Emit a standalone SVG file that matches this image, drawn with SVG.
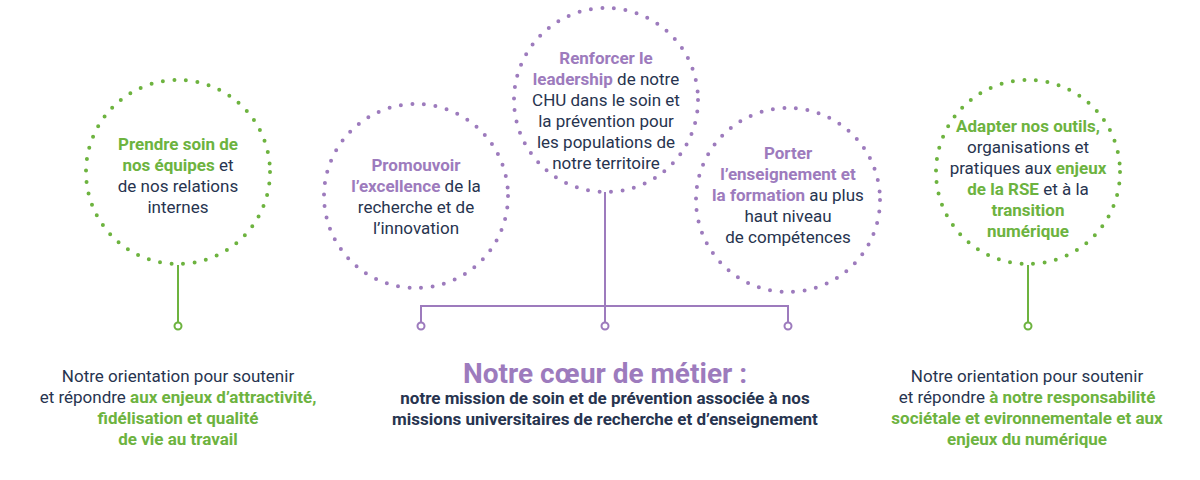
<svg xmlns="http://www.w3.org/2000/svg" width="1200" height="480" viewBox="0 0 1200 480">
<style>
text{font-family:Roboto,"Liberation Sans",sans-serif;font-size:17px;fill:#27344f;text-anchor:middle}
.g{fill:#6db33f;font-weight:bold}.p{fill:#9d7bbd;font-weight:bold}
.dg{fill:none;stroke:#6db33f;stroke-width:4;stroke-linecap:round;stroke-dasharray:0 11.6}
.dp{fill:none;stroke:#9d7bbd;stroke-width:4;stroke-linecap:round;stroke-dasharray:0 11.6}
.lg{stroke:#6db33f;stroke-width:2;fill:none}.lp{stroke:#9d7bbd;stroke-width:2;fill:none}
.eg{fill:#fff;stroke:#6db33f;stroke-width:2}.ep{fill:#fff;stroke:#9d7bbd;stroke-width:2}
.b{font-weight:bold}
</style>
<rect width="1200" height="480" fill="#fff"/>
<g id="connectors">
<line class="lg" x1="178" y1="265" x2="178" y2="322"/>
<circle class="eg" cx="178" cy="326" r="3.5"/>
<line class="lg" x1="1028" y1="265" x2="1028" y2="322"/>
<circle class="eg" cx="1028" cy="326" r="3.5"/>
<path class="lp" d="M605 192V322M421 322V306H788V322"/>
<circle class="ep" cx="421" cy="326" r="3.5"/>
<circle class="ep" cx="605" cy="326" r="3.5"/>
<circle class="ep" cx="788" cy="326" r="3.5"/>
</g>
<g id="n1"><circle class="dg" cx="178" cy="172" r="92"/>
<text x="178" y="150"><tspan class="g">Prendre soin de</tspan><tspan x="178" dy="21"><tspan class="g">nos équipes</tspan> et</tspan><tspan x="178" dy="21">de nos relations</tspan><tspan x="178" dy="21">internes</tspan></text></g>
<g id="n2"><circle class="dp" cx="416" cy="196" r="92"/>
<text x="416" y="171"><tspan class="p">Promouvoir</tspan><tspan x="416" dy="21"><tspan class="p">l’excellence</tspan> de la</tspan><tspan x="416" dy="21">recherche et de</tspan><tspan x="416" dy="21">l’innovation</tspan></text></g>
<g id="n3"><circle class="dp" cx="606" cy="100" r="92"/>
<text x="606" y="64"><tspan class="p">Renforcer le</tspan><tspan x="606" dy="21"><tspan class="p">leadership</tspan> de notre</tspan><tspan x="606" dy="21">CHU dans le soin et</tspan><tspan x="606" dy="21">la prévention pour</tspan><tspan x="606" dy="21">les populations de</tspan><tspan x="606" dy="21">notre territoire</tspan></text></g>
<g id="n4"><circle class="dp" cx="788" cy="200" r="92"/>
<text x="788" y="159"><tspan class="p">Porter</tspan><tspan x="788" dy="21" class="p">l’enseignement et</tspan><tspan x="788" dy="21"><tspan class="p">la formation</tspan> au plus</tspan><tspan x="788" dy="21">haut niveau</tspan><tspan x="788" dy="21">de compétences</tspan></text></g>
<g id="n5"><circle class="dg" cx="1028" cy="172" r="92"/>
<text x="1028" y="132"><tspan class="g">Adapter nos outils,</tspan><tspan x="1028" dy="21">organisations et</tspan><tspan x="1028" dy="21">pratiques aux <tspan class="g">enjeux</tspan></tspan><tspan x="1028" dy="21"><tspan class="g">de la RSE</tspan> et à la</tspan><tspan x="1028" dy="21" class="g">transition</tspan><tspan x="1028" dy="21" class="g">numérique</tspan></text></g>
<g id="bottom-left"><text x="178" y="382">Notre orientation pour soutenir</text><text x="178" y="403">et répondre <tspan class="g">aux enjeux d’attractivité,</tspan></text><text x="178" y="424" class="g">fidélisation et qualité</text><text x="178" y="445" class="g">de vie au travail</text></g>
<g id="bottom-center"><text x="605" y="383" style="font-size:28px;font-weight:bold;fill:#9d7bbd">Notre cœur de métier :</text><text x="605" y="404" class="b">notre mission de soin et de prévention associée à nos</text><text x="605" y="425" class="b">missions universitaires de recherche et d’enseignement</text></g>
<g id="bottom-right"><text x="1027" y="382">Notre orientation pour soutenir</text><text x="1027" y="403">et répondre <tspan class="g">à notre responsabilité</tspan></text><text x="1027" y="424" class="g">sociétale et evironnementale et aux</text><text x="1027" y="445" class="g">enjeux du numérique</text></g>
</svg>
